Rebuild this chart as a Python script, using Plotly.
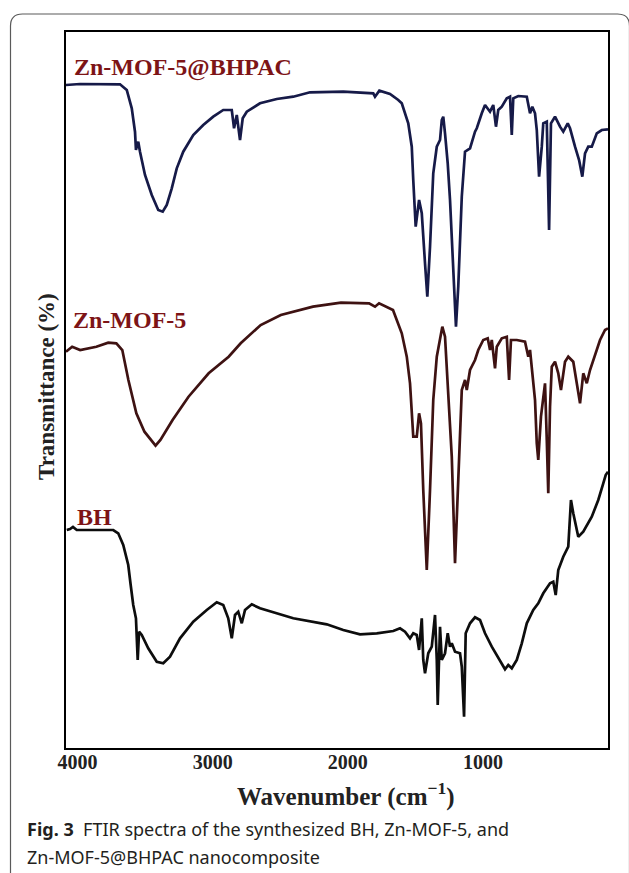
import plotly.graph_objects as go

# ---------------- data ----------------
# x: wavenumber (cm-1); y: offset transmittance (arbitrary units, stacked)
bhpac_wn = [4086, 3982, 3686, 3636, 3599, 3575, 3568, 3551, 3538, 3501, 3451, 3403, 3370, 3340,
            3303, 3266, 3218, 3144, 3070, 2996, 2922, 2859, 2842, 2822, 2798, 2778, 2748, 2650,
            2526, 2404, 2280, 2034, 1812, 1799, 1767, 1688, 1627, 1601, 1553, 1527, 1516, 1498,
            1473, 1453, 1429, 1412, 1392, 1368, 1342, 1318, 1305, 1294, 1281, 1261, 1244, 1220,
            1200, 1183, 1157, 1133, 1096, 1059, 1046, 1009, 985, 948, 924, 904, 887, 861, 824,
            800, 787, 776, 739, 676, 652, 635, 615, 602, 585, 565, 554, 528, 511, 497, 467, 430,
            406, 373, 356, 319, 289, 265, 245, 221, 195, 158, 121, 75]
bhpac_t = [663, 664, 663.7, 658, 639.7, 616.3, 598, 606.3, 596.3, 573, 553, 538, 536.3, 543,
           559.7, 579.7, 596.3, 613, 623, 631.3, 638, 638, 619.7, 633, 608, 629.7, 636.3, 644.7,
           649, 651.3, 655.7, 656.3, 654.7, 651.3, 657.3, 654, 648, 644.7, 624.7, 601.3, 568, 521.3,
           548, 534.7, 484.7, 451.3, 501.3, 574.7, 601.3, 608, 628, 631.3, 614.7, 584.7, 548, 484.7,
           421.3, 461.3, 551.3, 596.3, 599.7, 616.3, 619.7, 634.7, 643, 636.3, 643, 621.3, 638, 641.3, 649.7,
           651.3, 613, 649.7, 652, 651.3, 634.7, 641.3, 634.7, 618, 571.3, 601.3, 624.7, 626.3, 518, 624.7, 631.3, 621.3,
           616.3, 624.7, 619.7, 601.3, 588, 571.3, 594.7, 601.3, 601.3, 614.7, 618, 618.7]

mof_wn = [4086, 4040, 3981, 3861, 3773, 3713, 3669, 3624, 3565, 3505, 3423, 3387, 3297, 3179,
          3030, 2882, 2793, 2645, 2496, 2258, 2051, 1843, 1799, 1769, 1666, 1601, 1564, 1540,
          1516, 1490, 1473, 1459, 1442, 1416, 1392, 1368, 1342, 1318, 1301, 1281, 1257, 1231,
          1207, 1183, 1157, 1133, 1120, 1096, 1059, 1035, 998, 965, 948, 935, 911, 898, 861,
          824, 807, 793, 750, 689, 665, 652, 635, 615, 602, 591, 571, 554, 541, 528, 517, 504,
          491, 467, 443, 423, 393, 369, 332, 306, 282, 258, 232, 208, 171, 134, 97, 75]
mof_t = [396.3, 401.3, 398, 401.3, 405.3, 404.7, 398, 368, 334.7, 316.3, 302.3, 308, 328, 351.3,
         374.7, 391.3, 404.7, 423, 433, 441.3, 445.3, 444.7, 441.3, 444.7, 438, 414.7, 391.3, 364.7,
         311.3, 311.3, 334.7, 324.7, 258, 178, 258, 348, 391.3, 411.3, 421.3, 411.3, 358, 291.3,
         184.7, 274.7, 358, 368, 358, 378, 388, 398, 408, 409.7, 398, 408, 379.7, 401.3, 409.7,
         411.3, 368, 408, 408, 406.3, 391.3, 398, 378, 348, 304.7, 288, 331.3, 351.3, 364.7, 308, 254.7, 341.3,
         381.3, 386.3, 374.7, 358, 386.3, 391.3, 386.3, 364.7, 344.7, 374.7, 364.7, 378, 393, 408, 418, 419.7]

bh_wn = [4080, 4056, 4034, 4006, 3736, 3699, 3662, 3625, 3607, 3588, 3568, 3555, 3545, 3525,
         3477, 3414, 3366, 3316, 3242, 3144, 3044, 2970, 2922, 2885, 2859, 2835, 2811, 2785,
         2761, 2711, 2650, 2404, 2156, 2034, 1910, 1786, 1664, 1614, 1577, 1540, 1516, 1490,
         1473, 1453, 1442, 1429, 1405, 1379, 1355, 1342, 1335, 1318, 1305, 1281, 1261, 1244,
         1231, 1207, 1170, 1157, 1140, 1128, 1096, 1059, 1022, 985, 935, 887, 837, 813, 787,
         750, 713, 676, 628, 591, 554, 504, 480, 462, 443, 406, 369, 349, 332, 295, 258, 195,
         147, 110, 92, 75]
bh_t = [218, 219, 221, 218, 218, 214.7, 203, 183, 163, 143, 129.7, 88, 116.3, 113,
        99.7, 86.3, 84.7, 91.3, 109.7, 126.3, 138, 145.7, 143, 129.7, 109.7, 133, 136.3, 124.7,
        138, 143.7, 139.7, 129.7, 123.7, 118, 113.7, 114.7, 117, 119.7, 116.3, 109.7, 114.7, 113,
        98, 129.7, 88, 74.7, 94.7, 101.3, 133, 88, 43, 121.3, 88, 94.7, 114.7, 101.3,
        104.7, 96.3, 94.7, 81.3, 31.3, 114.7, 124.7, 130.7, 128, 114.7, 101.3, 89.7, 78.7, 83, 79.7,
        88, 104.7, 124.7, 138, 144.7, 154.7, 164.7, 166.3, 153, 178, 191.3, 201.3, 248, 234.7, 211.3, 216.3, 231.3,
        248, 264.7, 273, 276.3]

series_names = ["Zn-MOF-5@BHPAC", "Zn-MOF-5", "BH"]
series_colors = ["#161a48", "#3e1212", "#0d0d0d"]
label_y = [681, 428, 231]          # label heights in data units
tick_vals = [4000, 3000, 2000, 1000]
tick_text = ["4000", "3000", "2000", "1000"]

W, H = 629, 873
L, R, T, B = 66, 21, 32, 125
pw, ph = W - L - R, H - T - B


def px2x(px):
    return (px - L) / pw


def py2y(py):
    return (T + ph - py) / ph


fig = go.Figure()
for wn, t, name, col in zip([bhpac_wn, mof_wn, bh_wn], [bhpac_t, mof_t, bh_t],
                            series_names, series_colors):
    fig.add_trace(go.Scatter(x=wn, y=t, mode="lines", name=name,
                             line=dict(color=col, width=2.7), showlegend=False,
                             hoverinfo="skip"))

serif = "Liberation Serif"
label_color = "#7d1416"
label_x = [71.5, 70.5, 75]
for name, ly, lx in zip(series_names, label_y, label_x):
    fig.add_annotation(x=px2x(lx), y=ly, xref="paper", yref="y",
                       text="<b>%s</b>" % name, showarrow=False, xanchor="left",
                       yanchor="middle",
                       font=dict(family=serif, size=24, color=label_color))

# axis titles
fig.add_annotation(x=px2x(346), y=py2y(795), xref="paper", yref="paper",
                   text="<b>Wavenumber (cm<sup>−1</sup>)</b>", showarrow=False,
                   xanchor="center", yanchor="middle",
                   font=dict(family=serif, size=25, color="#222222"))
fig.add_annotation(x=px2x(46), y=py2y(387), xref="paper", yref="paper",
                   text="<b>Transmittance (%)</b>", showarrow=False, textangle=-90,
                   xanchor="center", yanchor="middle",
                   font=dict(family=serif, size=23, color="#222222"))

# caption
cap_font = "Noto Sans"
fig.add_annotation(x=px2x(25), y=py2y(829), xref="paper", yref="paper",
                   text="<b>Fig. 3</b>  FTIR spectra of the synthesized BH, Zn-MOF-5, and",
                   showarrow=False, xanchor="left", yanchor="middle",
                   font=dict(family=cap_font, size=18, color="#231f20"))
fig.add_annotation(x=px2x(25), y=py2y(857), xref="paper", yref="paper",
                   text="Zn-MOF-5@BHPAC nanocomposite",
                   showarrow=False, xanchor="left", yanchor="middle",
                   font=dict(family=cap_font, size=18, color="#231f20"))

# outer card frame (rounded corner)
x0, x1, y0, yb, r = 10.5, 629.5, 14, 880, 12
path = ("M {a},{b} L {a},{c} Q {a},{d} {e},{d} L {f},{d} Q {g},{d} {g},{c} L {g},{b}").format(
    a=px2x(x0), b=py2y(yb), c=py2y(y0 + r), d=py2y(y0), e=px2x(x0 + r),
    f=px2x(x1 - r), g=px2x(x1))
fig.add_shape(type="path", path=path, xref="paper", yref="paper",
              line=dict(color="#5a5a5a", width=1.2), layer="above")

fig.update_layout(
    width=W, height=H,
    margin=dict(l=L, r=R, t=T, b=B),
    paper_bgcolor="white", plot_bgcolor="white",
    xaxis=dict(range=[4085.6, 75], tickvals=tick_vals, ticktext=tick_text,
               showgrid=False, zeroline=False, showline=True, linecolor="black",
               linewidth=2.2, mirror=True, ticks="", ticklabelstandoff=-5,
               tickfont=dict(family=serif, size=20, color="#222222", weight="bold")),
    yaxis=dict(range=[0, 716], showticklabels=False, showgrid=False, zeroline=False,
               showline=True, linecolor="black", linewidth=2.2, mirror=True, ticks=""),
    showlegend=False,
)

fig.write_html("out.html", config={"displayModeBar": False},
               post_script="document.body.style.margin='0';document.body.style.padding='0';")
